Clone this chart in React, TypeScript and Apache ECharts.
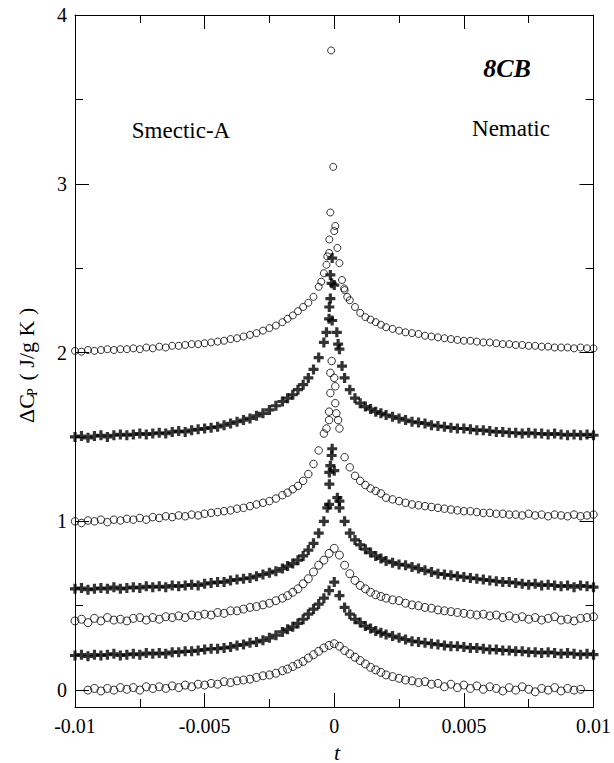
import React, { useEffect, useRef } from "react";
import * as echarts from "echarts";

// Reduced temperature grid t (shared by all curves)
const T_LEFT = [
  -0.01, -0.00975, -0.0095, -0.00925, -0.009, -0.00875, -0.0085, -0.00825, -0.008, -0.00775,
  -0.0075, -0.00725, -0.007, -0.00675, -0.0065, -0.00625, -0.006, -0.00575, -0.0055, -0.00525,
  -0.005, -0.00475, -0.0045, -0.00425, -0.004, -0.00375, -0.0035, -0.00325, -0.003, -0.00275,
  -0.0025, -0.00225, -0.002,
];
const T_MID = [
  -0.0018, -0.0016, -0.0014, -0.0012, -0.001, -0.0008, -0.0006, -0.0004, -0.0002, 0,
  0.0002, 0.0004, 0.0006, 0.0008, 0.001, 0.0012, 0.0014, 0.0016, 0.0018,
];
const T_RIGHT = [
  0.002, 0.00225, 0.0025, 0.00275, 0.003, 0.00325, 0.0035, 0.00375, 0.004, 0.00425,
  0.0045, 0.00475, 0.005, 0.00525, 0.0055, 0.00575, 0.006, 0.00625, 0.0065, 0.00675,
  0.007, 0.00725, 0.0075, 0.00775, 0.008, 0.00825, 0.0085, 0.00875, 0.009, 0.00925,
  0.0095, 0.00975, 0.01,
];
const T = [...T_LEFT, ...T_MID, ...T_RIGHT];

// ΔCp curves (offset vertically in the original), values on T
const S0 = [
  null, null, 0.0, 0.01, -0.005, 0.01, 0.0, 0.015, 0.005, 0.015, 0.0, 0.02, 0.01, 0.02, 0.01, 0.025, 0.015, 0.03, 0.02, 0.035, 0.03, 0.04, 0.035, 0.05, 0.045, 0.055, 0.06, 0.065, 0.075, 0.085, 0.09, 0.1, 0.115,
  0.125, 0.14, 0.155, 0.17, 0.19, 0.21, 0.23, 0.25, 0.265, 0.275, 0.26, 0.235, 0.215, 0.195, 0.175, 0.155, 0.135, 0.12, 0.105,
  0.09, 0.08, 0.07, 0.06, 0.055, 0.045, 0.05, 0.035, 0.04, 0.02, 0.035, 0.015, 0.03, 0.01, 0.025, 0.005, 0.02, 0.01, -0.005, 0.015, 0.0, 0.02, 0.005, -0.01, 0.01, 0.0, 0.015, -0.005, 0.01, 0.0, 0.005, null, null,
];
const S1 = [
  0.205, 0.21, 0.2, 0.21, 0.205, 0.21, 0.215, 0.205, 0.21, 0.215, 0.21, 0.22, 0.215, 0.22, 0.215, 0.225, 0.225, 0.23, 0.23, 0.235, 0.24, 0.245, 0.245, 0.25, 0.255, 0.265, 0.27, 0.28, 0.285, 0.295, 0.31, 0.325, 0.345,
  0.36, 0.375, 0.395, 0.42, 0.45, 0.48, 0.51, 0.545, 0.59, 0.64, 0.56, 0.49, 0.45, 0.42, 0.4, 0.38, 0.365, 0.35, 0.34,
  0.33, 0.32, 0.31, 0.3, 0.29, 0.285, 0.28, 0.275, 0.27, 0.265, 0.26, 0.26, 0.255, 0.25, 0.25, 0.245, 0.24, 0.24, 0.235, 0.235, 0.23, 0.23, 0.225, 0.225, 0.22, 0.225, 0.22, 0.215, 0.22, 0.215, 0.21, 0.215, 0.21,
];
const S2 = [
  0.41, 0.42, 0.4, 0.425, 0.41, 0.43, 0.415, 0.42, 0.41, 0.425, 0.43, 0.415, 0.43, 0.42, 0.435, 0.43, 0.44, 0.43, 0.445, 0.44, 0.45, 0.445, 0.46, 0.455, 0.47, 0.47, 0.48, 0.49, 0.495, 0.505, 0.515, 0.53, 0.545,
  0.56, 0.58, 0.6, 0.63, 0.66, 0.7, 0.74, 0.77, 0.81, 0.84, 0.8, 0.74, 0.69, 0.65, 0.62, 0.6, 0.58, 0.565, 0.555,
  0.545, 0.535, 0.53, 0.515, 0.505, 0.5, 0.49, 0.485, 0.475, 0.47, 0.465, 0.46, 0.455, 0.45, 0.445, 0.45, 0.44, 0.445, 0.43, 0.44, 0.425, 0.435, 0.42, 0.43, 0.415, 0.425, 0.435, 0.415, 0.42, 0.41, 0.425, 0.43, 0.435,
];
const S3 = [
  0.6, 0.605, 0.595, 0.6, 0.605, 0.6, 0.61, 0.6, 0.605, 0.61, 0.605, 0.615, 0.61, 0.615, 0.61, 0.62, 0.615, 0.62, 0.625, 0.62, 0.63, 0.635, 0.64, 0.64, 0.65, 0.655, 0.66, 0.665, 0.675, 0.685, 0.695, 0.705, 0.72,
  0.735, 0.75, 0.77, 0.795, 0.83, 0.87, 0.93, 1.0, 1.1, 1.3, 1.12, 1.0, 0.93, 0.89, 0.86, 0.835, 0.815, 0.795, 0.78,
  0.765, 0.755, 0.745, 0.74, 0.73, 0.72, 0.71, 0.7, 0.69, 0.685, 0.68, 0.675, 0.67, 0.665, 0.66, 0.655, 0.65, 0.645, 0.64, 0.64, 0.635, 0.63, 0.625, 0.63, 0.62, 0.625, 0.62, 0.615, 0.62, 0.61, 0.62, 0.615, 0.61,
];
const S4 = [
  1.0, 0.99, 1.005, 1.0, 1.01, 0.995, 1.01, 1.005, 1.015, 1.01, 1.02, 1.01, 1.025, 1.02, 1.03, 1.025, 1.035, 1.03, 1.04, 1.035, 1.045, 1.05, 1.055, 1.06, 1.065, 1.075, 1.08, 1.09, 1.1, 1.11, 1.12, 1.135, 1.155,
  1.17, 1.19, 1.21, 1.24, 1.28, 1.34, 1.42, 1.52, 1.65, 1.85, 1.55, 1.38, 1.32, 1.27, 1.24, 1.215, 1.195, 1.18, 1.165,
  1.14, 1.13, 1.12, 1.11, 1.1, 1.095, 1.09, 1.085, 1.08, 1.075, 1.07, 1.065, 1.06, 1.06, 1.055, 1.05, 1.05, 1.045, 1.045, 1.04, 1.04, 1.035, 1.045, 1.035, 1.04, 1.03, 1.04, 1.035, 1.03, 1.04, 1.03, 1.035, 1.04,
];
const S5 = [
  1.5, 1.505, 1.495, 1.505, 1.51, 1.5, 1.51, 1.515, 1.51, 1.515, 1.52, 1.515, 1.52, 1.525, 1.52, 1.53, 1.535, 1.53, 1.54, 1.545, 1.55, 1.555, 1.56, 1.57, 1.58, 1.59, 1.6, 1.61, 1.625, 1.64, 1.66, 1.685, 1.71,
  1.73, 1.75, 1.78, 1.81, 1.85, 1.9, 1.97, 2.06, 2.2, 2.4, 2.02, 1.85, 1.78, 1.73, 1.7, 1.68, 1.665, 1.65, 1.64,
  1.63, 1.62, 1.61, 1.6, 1.59, 1.585, 1.58, 1.57, 1.565, 1.56, 1.555, 1.55, 1.55, 1.545, 1.54, 1.54, 1.535, 1.53, 1.53, 1.525, 1.525, 1.52, 1.525, 1.52, 1.52, 1.515, 1.52, 1.515, 1.51, 1.515, 1.51, 1.515, 1.51,
];
const S6 = [
  2.01, 2.005, 2.015, 2.01, 2.015, 2.02, 2.015, 2.02, 2.02, 2.025, 2.02, 2.03, 2.025, 2.035, 2.03, 2.04, 2.04, 2.045, 2.05, 2.05, 2.055, 2.06, 2.065, 2.07, 2.08, 2.085, 2.095, 2.105, 2.115, 2.13, 2.145, 2.16, 2.18,
  2.2, 2.22, 2.245, 2.27, 2.295, 2.33, 2.39, 2.47, 2.59, 2.72, 2.53, 2.37, 2.31, 2.27, 2.235, 2.21, 2.195, 2.18, 2.165,
  2.15, 2.14, 2.13, 2.12, 2.115, 2.11, 2.1, 2.095, 2.09, 2.085, 2.08, 2.075, 2.07, 2.07, 2.065, 2.06, 2.06, 2.055, 2.05, 2.05, 2.045, 2.045, 2.04, 2.04, 2.035, 2.035, 2.03, 2.03, 2.03, 2.025, 2.03, 2.025, 2.025,
];

// Extra points right at the transition (t, ΔCp)
const P3 = [[-0.00008, 1.43], [-0.0001, 1.39], [-0.00015, 1.33], [-0.00019, 1.29], [-0.00019, 1.22], [0.00012, 1.14], [-0.00027, 1.08], [0.0002, 1.08]];
const P4 = [[-0.0001, 1.95], [-0.00015, 1.88], [0.00004, 1.8], [-0.00015, 1.76], [0.00004, 1.7], [-0.0002, 1.6], [0.00008, 1.64], [0.00015, 1.6], [-0.0003, 1.55]];
const P5 = [[-0.00008, 2.56], [-0.00015, 2.46], [-0.0001, 2.41], [-0.00015, 2.32], [-0.00019, 2.27], [-0.00008, 2.19], [0.0001, 2.12], [0.00015, 2.05], [-0.0003, 2.12], [0.0003, 1.92]];
const P6 = [[-0.00012, 3.79], [-0.00004, 3.1], [-0.00015, 2.83], [0.00004, 2.75], [-0.00019, 2.67], [0.00012, 2.62], [-0.00027, 2.57], [-0.0003, 2.52], [0.0003, 2.43], [0.00038, 2.38], [-0.0005, 2.42], [0.0005, 2.33]];

const X_LABELS = [-0.01, -0.005, 0, 0.005, 0.01];
const Y_MAJOR = [0, 1, 2, 3, 4];
const Y_MINOR = [0.5, 1.5, 2.5, 3.5];

const SERIF = "'Liberation Serif'";
const PLUS = "path://M3.4,0H6.6V3.4H10V6.6H6.6V10H3.4V6.6H0V3.4H3.4Z";

function pts(ys: (number | null)[], extra: number[][] = []) {
  const out: number[][] = [];
  T.forEach((t, i) => {
    const v = ys[i];
    if (v !== null && v !== undefined) out.push([t, v]);
  });
  return out.concat(extra);
}

export default function App() {
  const ref = useRef<HTMLDivElement>(null);
  useEffect(() => {
    if (!ref.current) return;
    const chart = echarts.init(ref.current, undefined, { renderer: "svg" });
    const axisLine = { show: true, onZero: false, lineStyle: { color: "#000", width: 1 } };
    const noLine = { show: false, onZero: false };
    const tickStyle = { color: "#000", width: 1 };
    const circle = (data: number[][], size: number) => ({
      type: "scatter",
      data,
      symbol: "circle",
      symbolSize: size,
      itemStyle: { color: "rgba(0,0,0,0)", borderColor: "#000", borderWidth: 1 },
    });
    const plus = (data: number[][]) => ({
      type: "scatter",
      data,
      symbol: PLUS,
      symbolSize: 10,
      itemStyle: { color: "#000" },
    });
    const xBase = {
      type: "value",
      min: -0.01,
      max: 0.01,
      interval: 0.005,
      axisLine,
      axisTick: { show: true, inside: true, length: 14, lineStyle: tickStyle },
      minorTick: { show: true, splitNumber: 2, length: 8, lineStyle: tickStyle },
      splitLine: { show: false },
      minorSplitLine: { show: false },
    };
    const yBase = {
      type: "value",
      min: -0.1,
      max: 4,
      splitLine: { show: false },
    };
    chart.setOption({
      animation: false,
      grid: { left: 75, right: 16, top: 15, bottom: 56 },
      xAxis: [
        {
          ...xBase,
          position: "bottom",
          axisLabel: { color: "#000", fontFamily: SERIF, fontSize: 20, margin: 9, customValues: X_LABELS },
        },
        { ...xBase, position: "top", axisLabel: { show: false } },
      ],
      yAxis: [
        {
          ...yBase,
          position: "left",
          axisLine,
          axisTick: { show: true, inside: true, length: 14, customValues: Y_MAJOR, lineStyle: tickStyle },
          axisLabel: { color: "#000", fontFamily: SERIF, fontSize: 20, margin: 8, customValues: Y_MAJOR },
        },
        {
          ...yBase,
          position: "left",
          axisLine: noLine,
          axisTick: { show: true, inside: true, length: 8, customValues: Y_MINOR, lineStyle: tickStyle },
          axisLabel: { show: false },
        },
        {
          ...yBase,
          position: "right",
          axisLine,
          axisTick: { show: true, inside: true, length: 14, customValues: Y_MAJOR, lineStyle: tickStyle },
          axisLabel: { show: false },
        },
        {
          ...yBase,
          position: "right",
          axisLine: noLine,
          axisTick: { show: true, inside: true, length: 8, customValues: Y_MINOR, lineStyle: tickStyle },
          axisLabel: { show: false },
        },
      ],
      graphic: [
        {
          type: "group",
          x: 26,
          y: 361,
          rotation: Math.PI / 2,
          children: [
            { type: "text", x: -62, y: 0, style: { text: "ΔC", fontFamily: SERIF, fontSize: 22, fill: "#000", align: "left", verticalAlign: "middle" } },
            { type: "text", x: -35, y: 6, style: { text: "P", fontFamily: SERIF, fontSize: 14, fill: "#000", align: "left", verticalAlign: "middle" } },
            { type: "text", x: -25, y: 0, style: { text: " ( J/g K )", fontFamily: SERIF, fontSize: 22, fill: "#000", align: "left", verticalAlign: "middle" } },
          ],
        },
        {
          type: "text",
          x: 337,
          y: 752,
          style: { text: "t", fontFamily: SERIF, fontSize: 22, fontStyle: "italic", fill: "#000", align: "center", verticalAlign: "middle" },
        },
        {
          type: "text",
          x: 507,
          y: 68,
          style: { text: "8CB", fontFamily: SERIF, fontSize: 26, fontWeight: "bold", fontStyle: "italic", fill: "#000", align: "center", verticalAlign: "middle" },
        },
        {
          type: "text",
          x: 181,
          y: 130,
          style: { text: "Smectic-A", fontFamily: SERIF, fontSize: 23, fill: "#000", align: "center", verticalAlign: "middle" },
        },
        {
          type: "text",
          x: 511,
          y: 128,
          style: { text: "Nematic", fontFamily: SERIF, fontSize: 23, fill: "#000", align: "center", verticalAlign: "middle" },
        },
      ],
      series: [
        circle(pts(S0), 8),
        plus(pts(S1)),
        circle(pts(S2), 8),
        plus(pts(S3, P3)),
        circle(pts(S4, P4), 7.5),
        plus(pts(S5, P5)),
        circle(pts(S6, P6), 7),
      ],
    });
    return () => chart.dispose();
  }, []);
  return <div ref={ref} style={{ position: "absolute", left: 0, top: 0, width: 614, height: 763 }} />;
}
